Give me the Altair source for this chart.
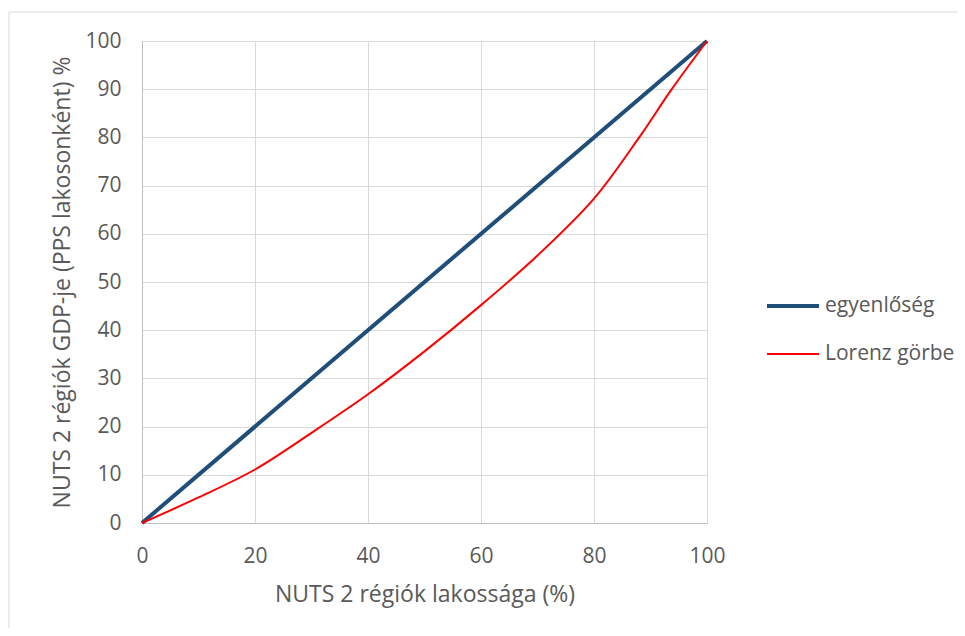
import altair as alt
import pandas as pd

series_names = ["egyenlőség", "Lorenz görbe"]
series_colors = ["#1F4E79", "#FF0000"]
series_widths = [4, 2]

equality_x = [0, 100]
equality_y = [0, 100]
lorenz_x = [0, 10, 20, 30, 40, 50, 60, 70, 80, 88, 93.7, 100]
lorenz_y = [0, 5.3, 11.1, 18.7, 26.7, 35.6, 45.2, 55.5, 67.3, 80, 89.9, 100]

rows = []
for i, (xs, ys) in enumerate([(equality_x, equality_y), (lorenz_x, lorenz_y)]):
    for k, (x, y) in enumerate(zip(xs, ys)):
        rows.append({"x": x, "y": y, "series": series_names[i], "order": i * 100 + k})
df = pd.DataFrame(rows)

FONT = "Open Sans"
TXT = "#595959"

leg = alt.Legend(title=None, orient="none", legendX=623, legendY=237,
                 symbolType="stroke", symbolSize=2704,
                 labelFontSize=21, labelFont=FONT, labelColor=TXT,
                 labelOffset=4, rowPadding=11)

lines = alt.Chart(df).mark_line(interpolate="catmull-rom").encode(
    x=alt.X("x:Q", scale=alt.Scale(domain=[0, 100], nice=False),
            axis=alt.Axis(title="NUTS 2 régiók lakossága (%)", values=[0, 20, 40, 60, 80, 100],
                          grid=True, ticks=False, labelFlush=False,
                          labelPadding=22, titlePadding=17)),
    y=alt.Y("y:Q", scale=alt.Scale(domain=[0, 100], nice=False),
            axis=alt.Axis(title="NUTS 2 régiók GDP-je (PPS lakosonként) %",
                          values=list(range(0, 101, 10)), grid=True, ticks=False,
                          labelFlush=False, labelPadding=21, titlePadding=10)),
    color=alt.Color("series:N", scale=alt.Scale(domain=series_names, range=series_colors),
                    legend=leg),
    strokeWidth=alt.StrokeWidth("series:N", scale=alt.Scale(domain=series_names, range=series_widths),
                                legend=leg),
    detail="series:N",
    order="order:Q",
)

border_df = pd.DataFrame({"a": [0]})
left_border = alt.Chart(border_df).mark_rule(color="#D9D9D9", strokeWidth=1).encode(
    x=alt.value(-133), y=alt.value(-29), y2=alt.value(700))
top_border = alt.Chart(border_df).mark_rule(color="#D9D9D9", strokeWidth=1).encode(
    x=alt.value(-133), x2=alt.value(900), y=alt.value(-29))

chart = alt.layer(left_border, top_border, lines).properties(
    width=565, height=482,
    autosize=alt.AutoSizeParams(type="none"),
    padding={"left": 134, "top": 33, "right": 250, "bottom": 105},
).configure_view(stroke=None).configure_axis(
    labelFont=FONT, titleFont=FONT, labelFontSize=21, titleFontSize=23,
    labelColor=TXT, titleColor=TXT, titleFontWeight="normal",
    gridColor="#D9D9D9", gridWidth=1, domainColor="#BFBFBF", domainWidth=1,
)

chart.save("out.html", embed_options={"renderer": "svg", "actions": False})
